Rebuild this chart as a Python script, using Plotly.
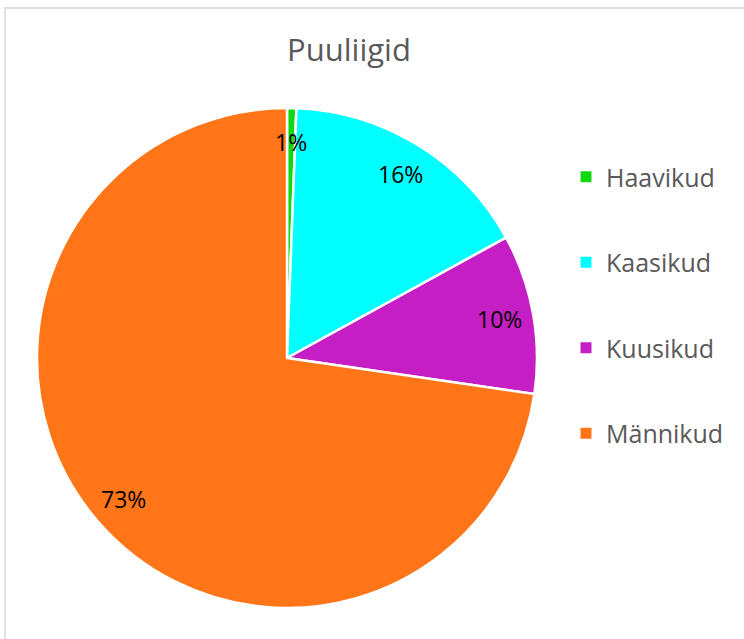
import math
import plotly.graph_objects as go

categories = ["Haavikud", "Kaasikud", "Kuusikud", "Männikud"]
values = [0.6, 16.4, 10.3, 72.7]
colors = ["#12D812", "#00FFFF", "#C41EC4", "#FF7518"]
title_text = "Puuliigid"

W, H = 744, 639
FONT = "Open Sans, Liberation Sans, sans-serif"

# pie placement (pixels)
CX, CY, R = 287, 358, 250

fig = go.Figure()
fig.add_trace(go.Pie(
    labels=categories, values=values, sort=False, direction="clockwise", rotation=0,
    marker=dict(colors=colors, line=dict(color="white", width=2.5)),
    textinfo="none",
    domain=dict(x=[(CX - R) / W, (CX + R) / W], y=[(H - CY - R) / H, (H - CY + R) / H]),
    showlegend=False, hoverinfo="label+percent",
))
for cat, col in zip(categories, colors):
    fig.add_trace(go.Scatter(
        x=[None], y=[None], mode="markers", name=cat, legendgroup=cat,
        marker=dict(symbol="square", size=11, color=col),
    ))

# percentage labels placed along each slice's mid-angle
total = sum(values)
annotations = []
cum = 0.0
for v in values:
    mid = (cum + v / 2) / total * 2 * math.pi
    cum += v
    px = CX + 0.865 * R * math.sin(mid)
    py = CY - 0.865 * R * math.cos(mid)
    annotations.append(dict(
        x=px / W, y=1 - py / H, xref="paper", yref="paper", showarrow=False,
        text=f"{v / total * 100:.0f}%", xanchor="center", yanchor="middle",
        font=dict(family=FONT, size=23, color="black"),
    ))

fig.update_layout(
    width=W, height=H, margin=dict(l=0, r=0, t=0, b=0),
    paper_bgcolor="white", plot_bgcolor="white",
    xaxis=dict(visible=False), yaxis=dict(visible=False),
    title=dict(text=title_text, x=349 / W, xanchor="center", y=1 - 50 / H, yanchor="middle",
               font=dict(family=FONT, size=31, color="#595959")),
    legend=dict(x=566 / W, xanchor="left", y=1 - 154 / H, yanchor="top",
                font=dict(family=FONT, size=25, color="#595959"),
                tracegroupgap=50, bgcolor="rgba(0,0,0,0)"),
    annotations=annotations,
    shapes=[dict(type="rect", xref="paper", yref="paper", x0=5 / W, x1=1.01, y0=-0.01, y1=1 - 8 / H,
                 line=dict(color="#D9D9D9", width=1.5), fillcolor="rgba(0,0,0,0)", layer="below")],
)
fig.write_html("out.html", config={"displayModeBar": False},
               post_script="document.body.style.margin='0';")
